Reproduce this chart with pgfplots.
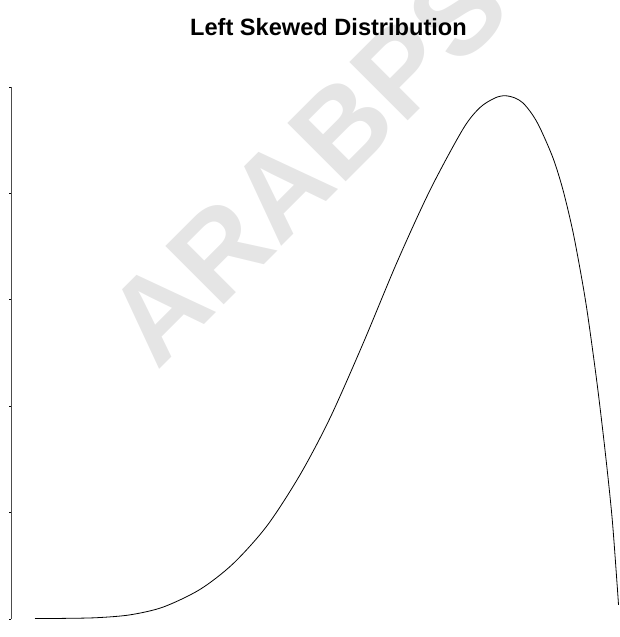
\documentclass[border=0pt]{standalone}
\usepackage{pgfplots}
\pgfplotsset{compat=1.18}
\usepackage{fontspec}
\newfontfamily\arial{Liberation Sans}
\begin{document}
\begin{tikzpicture}
\path[use as bounding box, clip] (0,0) rectangle (619pt,637pt);
\node[rotate=45, text=black!10, inner sep=0pt, font=\arial\bfseries\fontsize{120}{125}\selectfont] at (307pt,474pt) {ARABPS};
\node[anchor=base, inner sep=0pt, font=\arial\bfseries\fontsize{23.6}{28}\selectfont] at (328.5pt,601pt) {Left Skewed Distribution};
\begin{axis}[
  at={(11pt,18pt)}, anchor=south west,
  x=1pt, y=106.4pt,
  xmin=11, xmax=619, ymin=0, ymax=5,
  axis x line=none, axis y line=left,
  y axis line style={-, line width=0.8pt, black!70},
  ytick={0,1,2,3,4,5}, yticklabels={},
  tick align=outside, major tick length=2pt,
  tick style={black, line width=0.8pt},
  clip=false,
]
\addplot[black, line width=0.8pt, smooth] coordinates {
(35,0.004) (65,0.006) (97,0.0124) (130,0.039) (163,0.1116) (200,0.278)
(233,0.519) (267,0.876) (300,1.3545) (330,1.8885) (363,2.588) (397,3.353)
(430,4.030) (463,4.605) (480,4.807) (495,4.897) (505,4.918) (515,4.897)
(523,4.850) (532,4.746) (540,4.615) (553,4.333) (563,4.032) (573,3.637)
(582,3.186) (588,2.838) (597,2.218) (605,1.588) (612,0.959) (617,0.338)
(618.5,0.132)
};
\end{axis}
\end{tikzpicture}
\end{document}
